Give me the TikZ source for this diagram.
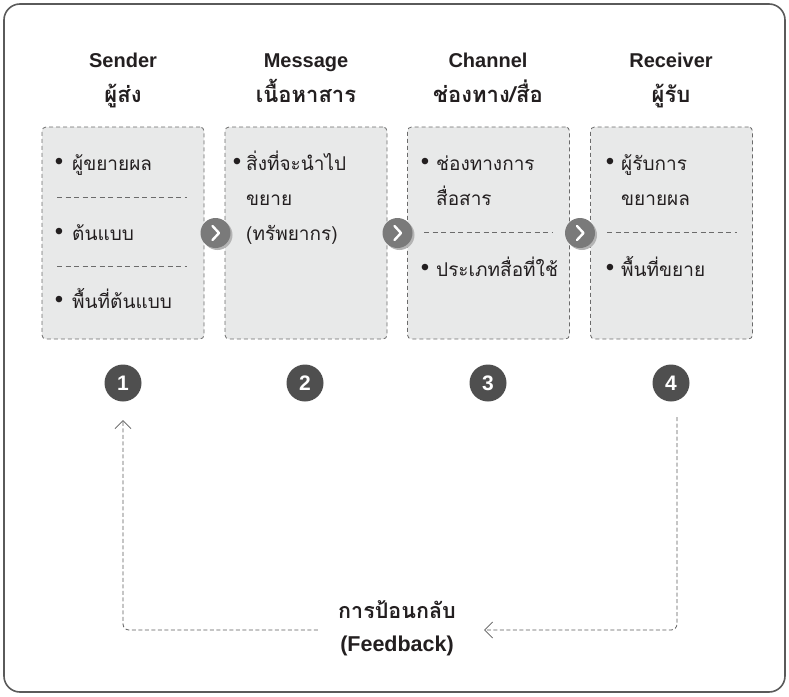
\documentclass[tikz,border=0pt]{standalone}
\usepackage{fontspec}
\setmainfont{Liberation Sans}
\newfontfamily\thai[Script=Thai]{Loma}
\usetikzlibrary{arrows.meta,shadows}
\definecolor{framec}{HTML}{5A5A5A}
\definecolor{boxfill}{HTML}{E8E9E9}
\definecolor{boxline}{HTML}{6B6B6B}
\definecolor{chevc}{HTML}{7A7A7A}
\definecolor{chevsh}{HTML}{B4B4B4}
\definecolor{numc}{HTML}{4F4F4F}
\definecolor{txt}{HTML}{231F20}
\tikzset{
  stagebox/.style={draw=boxline, fill=boxfill, line width=0.8pt, dash pattern=on 4pt off 3pt,
    rounded corners=4pt, minimum width=162pt, minimum height=212pt, inner sep=0pt},
  divider/.style={draw=boxline, line width=0.8pt, dash pattern=on 5pt off 3.5pt},
  headlat/.style={font=\fontsize{20}{24}\selectfont\bfseries, text=txt, inner sep=0pt, anchor=base},
  headthai/.style={font=\fontsize{22}{24}\selectfont\thai\bfseries, text=txt, inner sep=0pt, anchor=base},
  itemtxt/.style={font=\fontsize{19}{22}\selectfont\thai, text=txt, anchor=base west, inner sep=0pt},
  bul/.style={font=\fontsize{24}{26}\selectfont, text=txt, inner sep=0pt},
  chev/.style={circle, fill=chevc, minimum size=30pt, inner sep=0pt,
    drop shadow={shadow xshift=2pt, shadow yshift=-2pt, fill=chevsh, opacity=1}},
  chevmark/.style={draw=white, line width=2.4pt, line cap=round, line join=round},
  num/.style={circle, fill=numc, minimum size=37pt, inner sep=0pt, text=white,
    font=\fontsize{21}{24}\selectfont\bfseries},
  fbline/.style={draw=framec, line width=0.8pt, dash pattern=on 4pt off 2.5pt, rounded corners=6pt},
  fbtip/.style={-{Straight Barb[length=8pt,width=16pt,line width=0.8pt]}},
  fbtxt/.style={font=\fontsize{21.5}{33}\selectfont\bfseries, text=txt, align=center, inner sep=0pt}
}
\begin{document}
\begin{tikzpicture}[x=1pt,y=-1pt]
\useasboundingbox (0,0) rectangle (789,696);
\draw[framec, line width=1.6pt, rounded corners=16pt] (4,4) rectangle (785,692);

% headings
\node[headlat] (h1a) at (123,67.5) {Sender};
\node[headthai] (h1b) at (123,102.5) {ผู้ส่ง};
\node[headlat] (h2a) at (306,67.5) {Message};
\node[headthai] (h2b) at (306,102.5) {เนื้อหาสาร};
\node[headlat] (h3a) at (488,67.5) {Channel};
\node[headthai] (h3b) at (488,102.5) {ช่องทาง/สื่อ};
\node[headlat] (h4a) at (671,67.5) {Receiver};
\node[headthai] (h4b) at (671,102.5) {ผู้รับ};

% boxes
\node[stagebox] (b1) at (123,233) {};
\node[stagebox] (b2) at (306,233) {};
\node[stagebox] (b3) at (488.5,233) {};
\node[stagebox] (b4) at (671.5,233) {};

% box 1
\node[bul] (b1u1) at (59,164) {•};
\node[itemtxt] (b1t1) at (72,170) {ผู้ขยายผล};
\draw[divider] (57,197) -- (187,197);
\node[bul] (b1u2) at (59,234) {•};
\node[itemtxt] (b1t2) at (72,240) {ต้นแบบ};
\draw[divider] (57,266) -- (187,266);
\node[bul] (b1u3) at (59,302) {•};
\node[itemtxt] (b1t3) at (72,308) {พื้นที่ต้นแบบ};

% box 2
\node[bul] (b2u1) at (237,164) {•};
\node[itemtxt] (b2t1) at (246,170) {สิ่งที่จะนำไป};
\node[itemtxt] (b2t2) at (246,205) {ขยาย};
\node[itemtxt] (b2t3) at (246,240) {(ทรัพยากร)};

% box 3
\node[bul] (b3u1) at (425,164) {•};
\node[itemtxt] (b3t1) at (436,170) {ช่องทางการ};
\node[itemtxt] (b3t2) at (436,205) {สื่อสาร};
\draw[divider] (424,232) -- (553,232);
\node[bul] (b3u2) at (425,270) {•};
\node[itemtxt] (b3t3) at (436,276) {ประเภทสื่อที่ใช้};

% box 4
\node[bul] (b4u1) at (610,164) {•};
\node[itemtxt] (b4t1) at (621,170) {ผู้รับการ};
\node[itemtxt] (b4t2) at (621,205) {ขยายผล};
\draw[divider] (607,232) -- (737,232);
\node[bul] (b4u2) at (610,270) {•};
\node[itemtxt] (b4t3) at (621,276) {พื้นที่ขยาย};

% chevrons
\foreach \n/\x in {c1/215.5, c2/397.5, c3/580} {
  \node[chev] (\n) at (\x,233) {};
  \draw[chevmark] ([xshift=-3pt,yshift=7pt]\n.center) -- ([xshift=3.5pt]\n.center) -- ([xshift=-3pt,yshift=-7pt]\n.center);
}

% numbers
\node[num] (n1) at (123,383) {1};
\node[num] (n2) at (305,383) {2};
\node[num] (n3) at (488,383) {3};
\node[num] (n4) at (671,383) {4};

% feedback
\node[fbtxt] (fb) at (397,628) {{\thai การป้อนกลับ}\\(Feedback)};
\coordinate (r0) at (677,417);
\coordinate (r1) at (677,630);
\coordinate (l1) at (123,630);
\coordinate (l0) at (123,420);
\draw[fbline, fbtip] (r0) -- (r1) -- ([xshift=28pt]fb.east |- r1);
\draw[fbline, fbtip] ([xshift=-20pt]fb.west |- l1) -- (l1) -- (l0);
\end{tikzpicture}
\end{document}
